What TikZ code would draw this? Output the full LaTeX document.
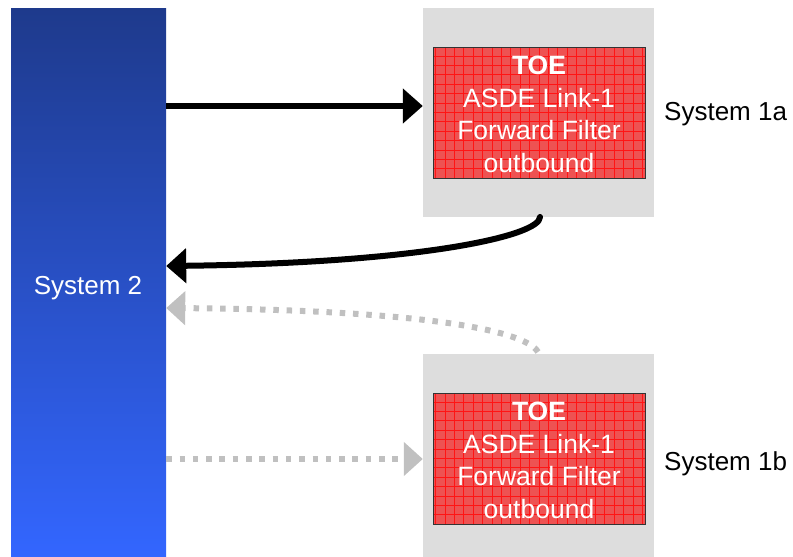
\documentclass[tikz,border=0pt]{standalone}
\usepackage{fontspec}
\setmainfont{Liberation Sans}
\usetikzlibrary{arrows.meta}
\definecolor{bartop}{RGB}{30,58,140}
\definecolor{barbot}{RGB}{51,102,255}
\definecolor{panel}{RGB}{221,221,221}
\definecolor{toefill}{RGB}{238,82,82}
\definecolor{toegrid}{RGB}{255,20,20}
\definecolor{ghost}{RGB}{192,192,192}
\tikzset{
  sysbar/.style={draw=none, shade, top color=bartop, bottom color=barbot,
    minimum width=155pt, minimum height=549pt, inner sep=0pt},
  panelbox/.style={fill=panel, draw=none, minimum width=231pt, inner sep=0pt},
  toebox/.style={fill=toefill, draw=black!80, line width=0.8pt,
    minimum width=212pt, minimum height=131pt, inner sep=0pt,
    align=center, text=white, font=\fontsize{26.5}{32.5}\selectfont,
    path picture={
      \draw[toegrid, line width=0.9pt]
        ([xshift=-120pt,yshift=-80pt]path picture bounding box.center)
        grid[step=9.4pt]
        ([xshift=120pt,yshift=80pt]path picture bounding box.center);
    }},
  label/.style={font=\fontsize{26}{32}\selectfont, inner sep=0pt},
  solidflow/.style={line width=6pt, -{Triangle[length=20pt,width=34pt]}},
  ghostflow/.style={ghost, line width=6pt, dash pattern=on 5.5pt off 7.8pt,
    -{Triangle[length=19pt,width=33pt]}},
}
\begin{document}
\begin{tikzpicture}[x=1pt,y=-1pt]
  \useasboundingbox (0,0) rectangle (793,557);
  \begin{scope}
    \clip (0,0) rectangle (793,557);
    % left column
    \node[sysbar] (bar) at (88.5,282.5) {};
    \node[label, text=white] (sys2) at (88,288) {System 2};
    % upper system
    \node[panelbox, minimum height=209pt] (panelA) at (538.5,112.5) {};
    \node[toebox] (toeA) at (539,112.5) {};
    \node[text=white, align=center, font=\fontsize{26.5}{32.5}\selectfont, inner sep=0pt]
      (toeAtext) at (539,114.5) {\textbf{TOE}\\ASDE Link-1\\Forward Filter\\outbound};
    \node[label, anchor=west] (sysA) at (664,114) {System 1a};
    % lower system
    \node[panelbox, minimum height=209pt] (panelB) at (538.5,458.5) {};
    \node[toebox] (toeB) at (539,458.5) {};
    \node[text=white, align=center, font=\fontsize{26.5}{32.5}\selectfont, inner sep=0pt]
      (toeBtext) at (539,460.5) {\textbf{TOE}\\ASDE Link-1\\Forward Filter\\outbound};
    \node[label, anchor=west] (sysB) at (664,464) {System 1b};
    % connector ends
    \coordinate (aOut) at (bar.east |- 0,106);
    \coordinate (aRet) at (540,217);
    \coordinate (aIn) at (bar.east |- 0,266);
    \coordinate (bRet) at (538,352);
    \coordinate (bIn) at (bar.east |- 0,308);
    \coordinate (bOut) at (bar.east |- 0,459);
    % flows
    \draw[solidflow] (aOut) -- (panelA.west |- aOut);
    \draw[solidflow, line cap=round] (aRet) .. controls (540,236) and (420,263) .. (aIn);
    \draw[ghostflow] (bRet) .. controls (525,330) and (420,310) .. (bIn);
    \draw[ghostflow] (bOut) -- (panelB.west |- bOut);
  \end{scope}
\end{tikzpicture}
\end{document}
